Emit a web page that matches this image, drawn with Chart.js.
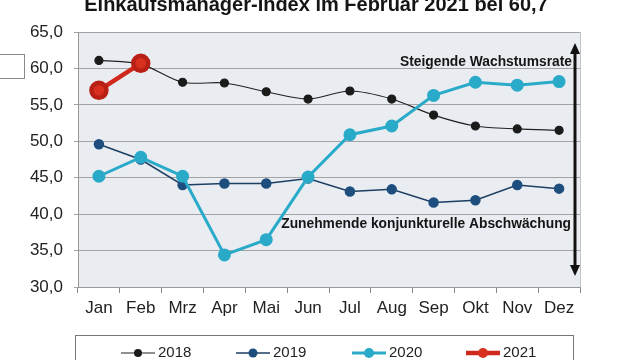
<!DOCTYPE html>
<html><head><meta charset="utf-8">
<script src="https://cdn.jsdelivr.net/npm/chart.js@4"></script>
<style>html,body{margin:0;padding:0;background:#fff;}#wrap{width:640px;height:360px;}</style>
</head><body><div id="wrap"><canvas id="c" width="640" height="360"></canvas></div>
<script>
const titleText = "Einkaufsmanager-Index im Februar 2021 bei 60,7";
const categories = ["Jan","Feb","Mrz","Apr","Mai","Jun","Jul","Aug","Sep","Okt","Nov","Dez"];
const seriesLabels = ["2018","2019","2020","2021"];
const values2018 = [61.1,60.6,58.1,58.0,56.8,55.8,56.9,55.8,53.6,52.1,51.7,51.5];
const values2019 = [49.6,47.5,44.0,44.2,44.2,44.9,43.1,43.4,41.6,41.9,44.0,43.5];
const values2020 = [45.2,47.8,45.2,34.4,36.5,45.1,50.9,52.1,56.3,58.1,57.7,58.2];
const values2021 = [57.0,60.7];
const yMin = 30, yMax = 65, yStep = 5;
const noteUp = "Steigende Wachstumsrate";
const noteDown = "Zunehmende konjunkturelle Abschwächung";
const FONT = "'Liberation Sans', Arial, sans-serif";

const extras = {
  id: 'extras',
  beforeDraw(chart) {
    const {ctx, chartArea: a} = chart;
    ctx.save();
    ctx.fillStyle = '#e9edf1';
    ctx.fillRect(a.left, a.top, a.right - a.left, a.bottom - a.top);
    ctx.strokeStyle = '#c4c4c4';
    ctx.lineWidth = 1;
    ctx.beginPath(); ctx.moveTo(a.right + 0.5, a.top); ctx.lineTo(a.right + 0.5, a.bottom); ctx.stroke();
    // stray box at left
    ctx.strokeStyle = '#8a8a8a';
    ctx.strokeRect(-1.5, 54.5, 26, 24);
    ctx.restore();
  },
  afterDraw(chart) {
    const {ctx, chartArea: a} = chart;
    ctx.save();
    // title (cropped at top)
    ctx.fillStyle = '#151515';
    ctx.font = 'bold 20px ' + FONT;
    ctx.textAlign = 'center'; ctx.textBaseline = 'alphabetic';
    ctx.fillText(titleText, 316, 11);
    // notes
    ctx.font = 'bold 13.8px ' + FONT;
    ctx.textAlign = 'right'; ctx.textBaseline = 'middle';
    ctx.fillText(noteUp, 572, 62);
    ctx.fillText(noteDown, 571, 224);
    // double arrow
    const x = 575, y1 = 43, y2 = 276;
    ctx.strokeStyle = '#111'; ctx.fillStyle = '#111'; ctx.lineWidth = 3;
    ctx.beginPath(); ctx.moveTo(x, y1 + 8); ctx.lineTo(x, y2 - 8); ctx.stroke();
    ctx.beginPath(); ctx.moveTo(x, y1); ctx.lineTo(x - 5, y1 + 11); ctx.lineTo(x + 5, y1 + 11); ctx.closePath(); ctx.fill();
    ctx.beginPath(); ctx.moveTo(x, y2); ctx.lineTo(x - 5, y2 - 11); ctx.lineTo(x + 5, y2 - 11); ctx.closePath(); ctx.fill();
    // legend box
    ctx.strokeStyle = '#777'; ctx.lineWidth = 1;
    ctx.strokeRect(75.5, 335.5, 498, 40);
    const xs = [121, 236, 352, 466];
    const ly = 353;
    chart.data.datasets.forEach((ds, i) => {
      const lx = xs[i];
      ctx.strokeStyle = ds.borderColor; ctx.lineWidth = ds.borderWidth;
      ctx.beginPath(); ctx.moveTo(lx, ly); ctx.lineTo(lx + 34, ly); ctx.stroke();
      ctx.fillStyle = ds.pointBackgroundColor;
      ctx.beginPath(); ctx.arc(lx + 17, ly, Math.min(ds.pointRadius, 5), 0, Math.PI * 2); ctx.fill();
      ctx.fillStyle = '#222'; ctx.font = '15px ' + FONT;
      ctx.textAlign = 'left'; ctx.textBaseline = 'middle';
      ctx.fillText(ds.label, lx + 37, ly);
    });
    ctx.restore();
  }
};

new Chart(document.getElementById('c'), {
  type: 'line',
  data: {
    labels: categories,
    datasets: [
      {label: seriesLabels[0], data: values2018, borderColor: '#222', backgroundColor: '#222', pointBackgroundColor: '#1b1b1b', pointBorderColor: '#1b1b1b', borderWidth: 1.2, pointRadius: 4, tension: 0.3, order: 3},
      {label: seriesLabels[1], data: values2019, borderColor: '#1d3f63', backgroundColor: '#1d4e7e', pointBackgroundColor: '#1d4e7e', pointBorderColor: '#1d4e7e', borderWidth: 1.5, pointRadius: 4.5, tension: 0, order: 2},
      {label: seriesLabels[2], data: values2020, borderColor: '#2aaac9', backgroundColor: '#2aaac9', pointBackgroundColor: '#2aaac9', pointBorderColor: '#2aaac9', borderWidth: 3, pointRadius: 5, tension: 0, order: 1},
      {label: seriesLabels[3], data: values2021, borderColor: '#d0281c', backgroundColor: '#d0281c', pointBackgroundColor: '#d8301f', pointBorderColor: '#b82015', borderWidth: 4.5, pointRadius: 7.5, tension: 0, order: 0}
    ]
  },
  options: {
    responsive: false, animation: false,
    layout: {padding: {top: 32, right: 60, left: 0, bottom: 0}},
    plugins: {legend: {display: false}, tooltip: {enabled: false}, title: {display: false}},
    scales: {
      x: {
        offset: true,
        grid: {offset: true, drawOnChartArea: false, drawTicks: true, tickLength: 6, color: '#888'},
        border: {color: '#999', width: 1},
        ticks: {color: '#222', font: {family: FONT, size: 17}, padding: 5, maxRotation: 0, autoSkip: false},
        afterFit(s) { s.height = 73; }
      },
      y: {
        min: yMin, max: yMax,
        grid: {color: '#a3a3a3', lineWidth: 1, tickLength: 4},
        border: {color: '#999', width: 1},
        ticks: {stepSize: yStep, color: '#222', font: {family: FONT, size: 17}, padding: 11,
          callback: v => v.toFixed(1).replace('.', ',')},
        afterFit(s) { s.width = 78; }
      }
    }
  },
  plugins: [extras]
});
</script></body></html>
